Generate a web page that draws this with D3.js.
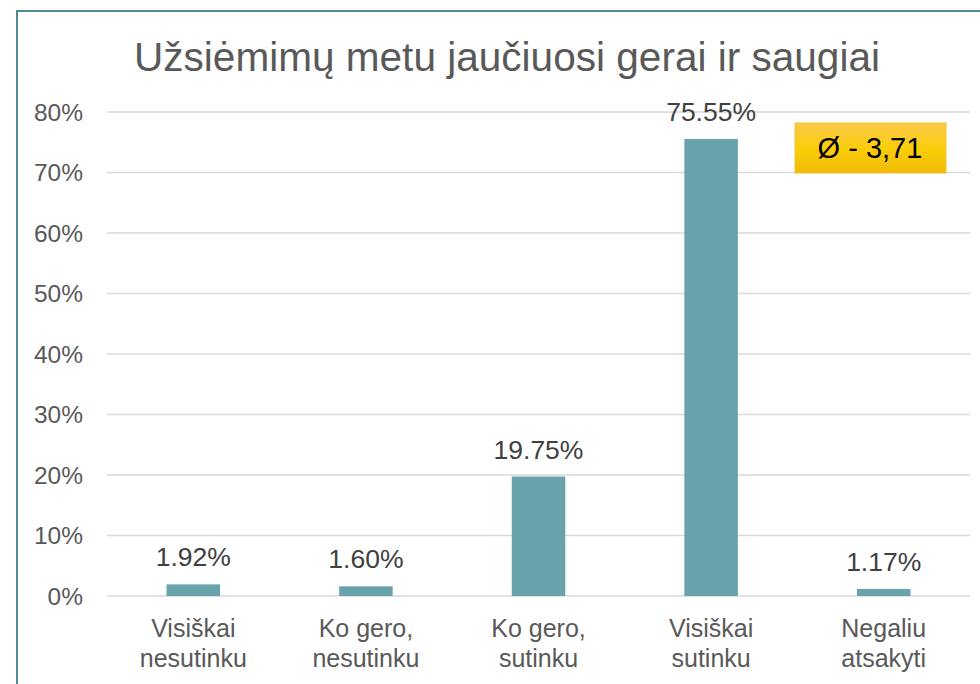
<!DOCTYPE html>
<html lang="en">
<head>
<meta charset="UTF-8" />
<title>Užsiėmimų metu jaučiuosi gerai ir saugiai</title>
<script src="https://d3js.org/d3.v7.min.js"></script>
<style>
  body { margin: 0; background: #fff; }
  svg { display: block; }
  text { font-family: "Liberation Sans", Arial, sans-serif; }
</style>
</head>
<body>
<svg id="chart"></svg>
<script>
// chart data
const categories = [
  ["Visiškai", "nesutinku"],
  ["Ko gero,", "nesutinku"],
  ["Ko gero,", "sutinku"],
  ["Visiškai", "sutinku"],
  ["Negaliu", "atsakyti"]
];
const values = [1.92, 1.60, 19.75, 75.55, 1.17];
const yTicks = [0, 10, 20, 30, 40, 50, 60, 70, 80];
const title = "Užsiėmimų metu jaučiuosi gerai ir saugiai";
const averageLabel = "Ø - 3,71";

const WIDTH = 980, HEIGHT = 684;
const margin = { top: 112, right: 10, bottom: 88, left: 107 };

const svg = d3.select("#chart").attr("width", WIDTH).attr("height", HEIGHT);

// frame (only top and left edges are visible in the crop)
svg.append("path")
  .attr("d", `M17,${HEIGHT} L17,11 L${WIDTH},11`)
  .attr("fill", "none")
  .attr("stroke", "#4f8c97")
  .attr("stroke-width", 2);

const x = d3.scaleBand()
  .domain(d3.range(categories.length))
  .range([margin.left, WIDTH - margin.right])
  .paddingInner(0.69)
  .paddingOuter(0.345);

const y = d3.scaleLinear()
  .domain([0, 80])
  .range([HEIGHT - margin.bottom, margin.top]);

// gridlines
svg.append("g")
  .selectAll("line")
  .data(yTicks)
  .join("line")
  .attr("x1", margin.left)
  .attr("x2", WIDTH - margin.right)
  .attr("y1", d => y(d))
  .attr("y2", d => y(d))
  .attr("stroke", "#d9d9d9")
  .attr("stroke-width", 1.5);

// y tick labels
svg.append("g")
  .selectAll("text")
  .data(yTicks)
  .join("text")
  .attr("x", 83)
  .attr("y", d => y(d))
  .attr("dy", "0.35em")
  .attr("text-anchor", "end")
  .attr("fill", "#595959")
  .style("font-size", "24.5px")
  .text(d => d + "%");

// bars
svg.append("g")
  .selectAll("rect")
  .data(values)
  .join("rect")
  .attr("x", (d, i) => x(i))
  .attr("width", x.bandwidth())
  .attr("y", d => y(d))
  .attr("height", d => y(0) - y(d))
  .attr("fill", "#68a2ab");

// value labels
svg.append("g")
  .selectAll("text")
  .data(values)
  .join("text")
  .attr("x", (d, i) => x(i) + x.bandwidth() / 2)
  .attr("y", d => y(d) - 18)
  .attr("text-anchor", "middle")
  .attr("fill", "#404040")
  .style("font-size", "26.5px")
  .text(d => d.toFixed(2) + "%");

// category labels
const catG = svg.append("g")
  .selectAll("text")
  .data(categories)
  .join("text")
  .attr("text-anchor", "middle")
  .attr("fill", "#595959")
  .style("font-size", "25px");

catG.selectAll("tspan")
  .data((d, i) => d.map(line => ({ line, i })))
  .join("tspan")
  .attr("x", d => x(d.i) + x.bandwidth() / 2)
  .attr("y", (d, j) => 637 + j * 30)
  .text(d => d.line);

// title
svg.append("text")
  .attr("x", 507)
  .attr("y", 71)
  .attr("text-anchor", "middle")
  .attr("fill", "#595959")
  .attr("textLength", 746)
  .attr("lengthAdjust", "spacingAndGlyphs")
  .style("font-family", "'Liberation Sans Narrow', 'Liberation Sans', Arial, sans-serif")
  .style("font-size", "40px")
  .text(title);

// average box
const defs = svg.append("defs");
const grad = defs.append("linearGradient")
  .attr("id", "gold")
  .attr("x1", 0).attr("y1", 0).attr("x2", 0).attr("y2", 1);
grad.append("stop").attr("offset", "0%").attr("stop-color", "#f8ca4a");
grad.append("stop").attr("offset", "50%").attr("stop-color", "#fdcd0c");
grad.append("stop").attr("offset", "100%").attr("stop-color", "#efbb05");

svg.append("rect")
  .attr("x", 795)
  .attr("y", 123)
  .attr("width", 151)
  .attr("height", 50)
  .attr("fill", "url(#gold)")
  .attr("stroke", "#f2c530")
  .attr("stroke-width", 1);

svg.append("text")
  .attr("x", 870)
  .attr("y", 148)
  .attr("dy", "0.36em")
  .attr("text-anchor", "middle")
  .attr("fill", "#000")
  .style("font-size", "29px")
  .text(averageLabel);
</script>
</body>
</html>
